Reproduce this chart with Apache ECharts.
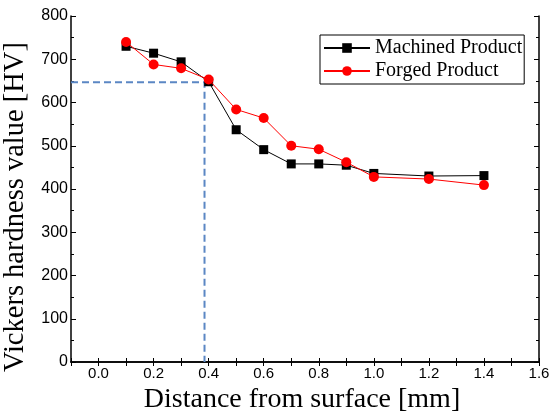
<!DOCTYPE html>
<html>
<head>
<meta charset="utf-8">
<script src="https://cdn.jsdelivr.net/npm/echarts@6/dist/echarts.min.js"></script>
<style>
  html, body { margin: 0; padding: 0; background: #fff; }
  #chart { width: 553px; height: 418px; }
</style>
</head>
<body>
<div id="chart"></div>
<script>
// distance from surface [mm]
const distance = [0.1, 0.2, 0.3, 0.4, 0.5, 0.6, 0.7, 0.8, 0.9, 1.0, 1.2, 1.4]
// Vickers hardness [HV]
const machined = [730, 714, 694, 648, 537, 491, 458, 458, 455, 436, 430, 431]
const forged = [740, 688, 679, 653, 584, 564, 500, 492, 462, 428, 423, 409]
// guide line
const guideX = 0.385
const guideY = 647

const serif = '"Liberation Serif", "Times New Roman", serif'
const sans = '"Liberation Sans", Arial, sans-serif'

const chart = echarts.init(document.getElementById('chart'))

const pairs = (ys) => distance.map((x, i) => [x, ys[i]])

// 四边框 + 内向刻度
const xBase = {
  type: 'value',
  min: -0.1,
  max: 1.6,
  interval: 0.1,
  splitLine: { show: false },
  axisLine: { lineStyle: { color: '#000', width: 1.5 } },
  axisTick: { inside: true, length: 4, lineStyle: { color: '#000' } },
}
const yBase = {
  type: 'value',
  min: 0,
  max: 800,
  interval: 100,
  splitLine: { show: false },
  axisLine: { onZero: false, lineStyle: { color: '#000', width: 1.5 } },
  axisTick: { inside: true, length: 5, lineStyle: { color: '#000' } },
  minorTick: { show: true, splitNumber: 2, length: 3, lineStyle: { color: '#000' } },
}

const option = {
  animation: false,
  backgroundColor: '#fff',
  grid: { left: 71, right: 14, top: 16, bottom: 56, outerBoundsMode: 'none' },
  legend: {
    data: ['Machined Product', 'Forged Product'],
    orient: 'vertical',
    left: 320,
    top: 35,
    itemWidth: 46,
    itemHeight: 12,
    itemGap: 3,
    padding: [3, 2, 3, 3],
    borderColor: '#000',
    borderWidth: 1,
    textStyle: { fontFamily: serif, fontSize: 20, color: '#000' },
  },
  xAxis: [
    {
      ...xBase,
      position: 'bottom',
      name: 'Distance from surface [mm]',
      nameLocation: 'middle',
      nameGap: 17,
      nameTextStyle: { fontFamily: serif, fontSize: 28, color: '#000', padding: [0, 6, 0, 0] },
      axisLabel: {
        fontFamily: sans,
        fontSize: 15,
        color: '#000',
        margin: 4,
        formatter: (v) => {
          const k = Math.round(v * 10)
          return k >= 0 && k % 2 === 0 ? (k / 10).toFixed(1) : ''
        },
      },
    },
    { ...xBase, position: 'top', axisLabel: { show: false } },
  ],
  yAxis: [
    {
      ...yBase,
      position: 'left',
      name: 'Vickers hardness value [HV]',
      nameLocation: 'middle',
      nameGap: 38,
      nameTextStyle: { fontFamily: serif, fontSize: 28.5, color: '#000', padding: [0, 36, 0, 0] },
      axisLabel: { fontFamily: sans, fontSize: 16, color: '#000', margin: 3 },
    },
    { ...yBase, position: 'right', axisLabel: { show: false } },
  ],
  series: [
    {
      name: 'guide',
      type: 'line',
      silent: true,
      symbol: 'none',
      lineStyle: { color: '#5b87c4', width: 2, type: [7, 4] },
      data: [[-0.1, guideY], [guideX, guideY], [guideX, 0]],
      z: 1,
    },
    {
      name: 'Machined Product',
      type: 'line',
      symbol: 'rect',
      symbolSize: 9,
      itemStyle: { color: '#000' },
      lineStyle: { color: '#000', width: 1 },
      data: pairs(machined),
      z: 2,
    },
    {
      name: 'Forged Product',
      type: 'line',
      symbol: 'circle',
      symbolSize: 10,
      itemStyle: { color: '#ff0000' },
      lineStyle: { color: '#ff0000', width: 1 },
      data: pairs(forged),
      z: 3,
    },
  ],
}

chart.setOption(option)
</script>
</body>
</html>
